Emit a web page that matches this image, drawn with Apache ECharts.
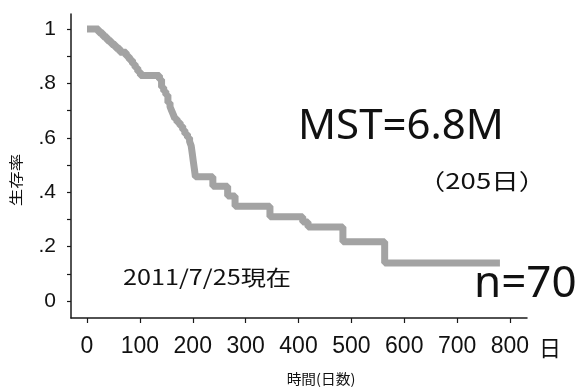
<!DOCTYPE html>
<html>
<head>
<meta charset="utf-8">
<script src="https://cdn.jsdelivr.net/npm/echarts@6/dist/echarts.min.js"></script>
<style>
html,body{margin:0;padding:0;background:#fff;}
#chart{width:577px;height:387px;}
</style>
</head>
<body>
<div id="chart"></div>
<script>
// Kaplan-Meier survival steps (days, survival probability)
const days = [0, 22, 30, 38, 46, 54, 62, 74, 80, 86, 91, 96, 101, 137, 141, 145, 149, 153, 157, 160, 163, 166, 170, 176, 181, 185, 190, 194, 197, 199, 201, 203, 205, 238, 266, 280, 346, 408, 418, 484, 563, 781];
const survival = [1.0, 0.986, 0.971, 0.957, 0.943, 0.929, 0.914, 0.900, 0.886, 0.871, 0.857, 0.843, 0.829, 0.814, 0.786, 0.771, 0.757, 0.729, 0.714, 0.700, 0.686, 0.671, 0.657, 0.643, 0.629, 0.614, 0.600, 0.586, 0.571, 0.543, 0.514, 0.486, 0.457, 0.422, 0.386, 0.348, 0.310, 0.290, 0.272, 0.218, 0.140, 0.140];

const xTicks = [0, 100, 200, 300, 400, 500, 600, 700, 800];
const yTickMarks = [0, 0.1, 0.2, 0.3, 0.4, 0.5, 0.6, 0.7, 0.8, 0.9, 1];
const yTickValues = [0, 0.2, 0.4, 0.6, 0.8, 1];
const yTickLabels = ['0', '.2', '.4', '.6', '.8', '1'];

const yAxisTitle = '生存率';
const xAxisTitle = '時間(日数)';
const xUnit = '日';
const mstText = 'MST=6.8M';
const mstDaysText = '（205日）';
const nText = 'n=70';
const dateText = '2011/7/25現在';

const chart = echarts.init(document.getElementById('chart'), null, {renderer: 'canvas'});
const seriesData = days.map((d, i) => [d, survival[i]]);

chart.setOption({
  animation: false,
  backgroundColor: '#ffffff',
  grid: {left: 71, right: 50, top: 14, bottom: 69, containLabel: false},
  xAxis: {
    type: 'value',
    min: -30.3,
    max: 832.2,
    axisLine: {show: true, onZero: false, lineStyle: {color: '#1a1a1a', width: 1.5}},
    axisTick: {show: true, length: 5, customValues: xTicks, lineStyle: {color: '#1a1a1a', width: 1.2}},
    axisLabel: {show: true, customValues: xTicks, margin: 17, fontFamily: 'Liberation Sans', fontSize: 23, color: '#111'},
    splitLine: {show: false}
  },
  yAxis: {
    type: 'value',
    min: -0.0625,
    max: 1.055,
    axisLine: {show: true, onZero: false, lineStyle: {color: '#1a1a1a', width: 1.5}},
    axisTick: {show: true, length: 4, customValues: yTickMarks, lineStyle: {color: '#1a1a1a', width: 1.2}},
    axisLabel: {
      show: true, customValues: yTickValues, margin: 15,
      fontFamily: 'Liberation Sans', fontSize: 21, color: '#111',
      formatter: function (v) {
        let best = 0, bd = 1e9;
        yTickValues.forEach((t, i) => { const d = Math.abs(t - v); if (d < bd) { bd = d; best = i; } });
        return yTickLabels[best];
      }
    },
    splitLine: {show: false}
  },
  series: [{
    type: 'line',
    step: 'end',
    data: seriesData,
    showSymbol: false,
    symbol: 'none',
    lineStyle: {color: '#a3a3a3', width: 7},
    z: 3
  }],
  graphic: [
    {type: 'text', x: 298, y: 127, style: {text: mstText, fontFamily: 'Noto Sans', fontSize: 42, fill: '#111', align: 'left', verticalAlign: 'middle'}},
    {type: 'text', x: 482, y: 181, scaleX: 1.25, style: {text: mstDaysText, fontFamily: 'Noto Sans CJK JP', fontSize: 22, fill: '#111', align: 'center', verticalAlign: 'middle'}},
    {type: 'text', x: 474, y: 284, style: {text: nText, fontFamily: 'Noto Sans', fontSize: 44, fill: '#111', align: 'left', verticalAlign: 'middle'}},
    {type: 'text', x: 123, y: 277, scaleX: 1.2, style: {text: dateText, fontFamily: 'Noto Sans CJK JP', fontSize: 21, fill: '#111', align: 'left', verticalAlign: 'middle'}},
    {type: 'text', x: 550, y: 348, style: {text: xUnit, fontFamily: 'Noto Sans CJK JP', fontSize: 22, fill: '#111', align: 'center', verticalAlign: 'middle'}},
    {type: 'text', x: 321, y: 379, scaleX: 1.05, style: {text: xAxisTitle, fontFamily: 'Noto Sans CJK JP', fontSize: 14, fill: '#111', align: 'center', verticalAlign: 'middle'}},
    {type: 'text', x: 16, y: 180, rotation: Math.PI / 2, scaleX: 1.25, style: {text: yAxisTitle, fontFamily: 'Noto Sans CJK JP', fontSize: 14, fill: '#111', align: 'center', verticalAlign: 'middle'}}
  ]
});
</script>
</body>
</html>
